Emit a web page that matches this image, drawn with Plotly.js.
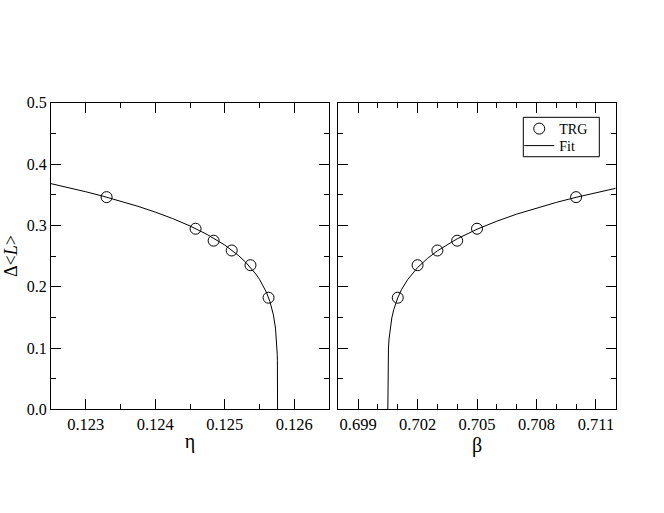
<!DOCTYPE html>
<html>
<head>
<meta charset="utf-8">
<script src="https://cdn.plot.ly/plotly-3.0.1.min.js"></script>
<style>body{margin:0;background:#fff}#chart{width:664px;height:513px}</style>
</head>
<body>
<div id="chart"></div>
<script>
// TRG data, left panel (eta)
const etaTRG = [0.1233, 0.12458, 0.12484, 0.12510, 0.12537, 0.12563];
const yTRG_eta = [0.346, 0.2945, 0.275, 0.259, 0.235, 0.182];
// TRG data, right panel (beta)
const betaTRG = [0.701, 0.702, 0.703, 0.704, 0.705, 0.710];
const yTRG_beta = [0.182, 0.235, 0.259, 0.275, 0.2945, 0.346];

// Fit curve, left panel
const etaFit = [0.1225, 0.12275, 0.123, 0.12325, 0.1235, 0.12375, 0.124, 0.12425, 0.1245, 0.12475,
  0.125, 0.1251, 0.1252, 0.1253, 0.1254, 0.12545, 0.1255, 0.12555, 0.1256, 0.12565, 0.12568,
  0.1257, 0.12573, 0.125745, 0.12575, 0.125755, 0.125757, 0.125759, 0.12576];
const yFit_eta = [0.368, 0.3616, 0.3548, 0.3475, 0.3397, 0.3311, 0.3216, 0.3111, 0.2990, 0.2849,
  0.2679, 0.2597, 0.2506, 0.2400, 0.2275, 0.2202, 0.2119, 0.2024, 0.1907, 0.1757, 0.1640,
  0.1540, 0.1324, 0.1138, 0.1042, 0.0896, 0.0801, 0.0631, 0.0];

// Fit curve, right panel
const betaFit = [0.7005, 0.700501, 0.700505, 0.70051, 0.70053, 0.70056, 0.7006, 0.70065, 0.7007,
  0.7008, 0.7009, 0.7010, 0.7012, 0.7015, 0.7020, 0.7025, 0.7030, 0.7040, 0.7050, 0.7060,
  0.7070, 0.7080, 0.7090, 0.7100, 0.7110, 0.7120];
const yFit_beta = [0.0, 0.0469, 0.0667, 0.0776, 0.0985, 0.1147, 0.1281, 0.1400, 0.1490,
  0.1627, 0.1733, 0.1819, 0.1958, 0.2116, 0.2312, 0.2461, 0.2584, 0.2781, 0.2937, 0.3068,
  0.3183, 0.3283, 0.3374, 0.3457, 0.3533, 0.3604];

const yTickVals = [0.0, 0.1, 0.2, 0.3, 0.4, 0.5];
const etaTickVals = [0.123, 0.124, 0.125, 0.126];
const betaTickVals = [0.699, 0.702, 0.705, 0.708, 0.711];

const FAM = 'Liberation Serif';
const markerStyle = {symbol: 'circle-open', size: 11, color: '#000', line: {width: 1, color: '#000'}};

const traces = [
  {x: etaFit, y: yFit_eta, mode: 'lines', line: {color: '#000', width: 1}, xaxis: 'x', yaxis: 'y', showlegend: false, name: 'Fit'},
  {x: etaTRG, y: yTRG_eta, mode: 'markers', marker: markerStyle, xaxis: 'x', yaxis: 'y', showlegend: false, name: 'TRG'},
  {x: betaTRG, y: yTRG_beta, mode: 'markers', marker: markerStyle, xaxis: 'x2', yaxis: 'y2', name: 'TRG', legend: 'legend'},
  {x: betaFit, y: yFit_beta, mode: 'lines', line: {color: '#000', width: 1}, xaxis: 'x2', yaxis: 'y2', name: 'Fit', legend: 'legend2'}
];

function ax(extra) {
  return Object.assign({
    showline: true, linecolor: '#000', linewidth: 1, mirror: 'allticks',
    ticks: 'inside', ticklen: 10, tickwidth: 1, tickcolor: '#000',
    showgrid: false, zeroline: false, automargin: false,
    tickfont: {family: FAM, size: 16, color: '#000'}
  }, extra);
}

const legendCommon = {
  xanchor: 'left', yanchor: 'middle',
  borderwidth: 0, bgcolor: 'rgba(0,0,0,0)',
  font: {family: FAM, size: 14, color: '#000'},
  itemwidth: 30
};

const layout = {
  width: 664, height: 513,
  margin: {l: 0, r: 0, t: 0, b: 0},
  paper_bgcolor: '#fff', plot_bgcolor: '#fff',
  font: {family: FAM, size: 16, color: '#000'},
  showlegend: true,
  legend: Object.assign({x: 0.782, y: 0.7485}, legendCommon),
  legend2: Object.assign({x: 0.782, y: 0.7154}, legendCommon),
  shapes: [{type: 'rect', xref: 'paper', yref: 'paper', x0: 0.7881, x1: 0.9026, y0: 0.6945, y1: 0.7713,
    line: {color: '#000', width: 1}, fillcolor: 'rgba(0,0,0,0)', layer: 'above'}],
  xaxis: ax({
    domain: [0.0768, 0.4955], range: [0.1225, 0.1265],
    tickmode: 'array', tickvals: etaTickVals, ticktext: etaTickVals.map(v => v.toFixed(3)),
    tickfont: {family: FAM, size: 16.5, color: '#000'},
    minor: {ticks: 'inside', ticklen: 5, tickwidth: 1, tickcolor: '#000', dtick: 0.0005, tick0: 0.1225, showgrid: false},
    title: {text: 'η', font: {family: FAM, size: 20, color: '#000'}, standoff: 0},
    anchor: 'y'
  }),
  yaxis: ax({
    domain: [0.2021, 0.7998], range: [0, 0.5],
    tickmode: 'array', tickvals: yTickVals, ticktext: yTickVals.map(v => v.toFixed(1)),
    minor: {ticks: 'inside', ticklen: 5, tickwidth: 1, tickcolor: '#000', dtick: 0.05, tick0: 0, showgrid: false},
    title: {text: 'Δ&lt;<i>L</i>&gt;', font: {family: FAM, size: 18, color: '#000'}, standoff: 4},
    anchor: 'x'
  }),
  xaxis2: ax({
    domain: [0.5095, 0.9273], range: [0.698, 0.712],
    tickmode: 'array', tickvals: betaTickVals, ticktext: betaTickVals.map(v => v.toFixed(3)),
    tickfont: {family: FAM, size: 16.5, color: '#000'},
    minor: {ticks: 'inside', ticklen: 5, tickwidth: 1, tickcolor: '#000', dtick: 0.001, tick0: 0.698, showgrid: false},
    title: {text: 'β', font: {family: FAM, size: 20, color: '#000'}, standoff: 0},
    anchor: 'y2'
  }),
  yaxis2: ax({
    domain: [0.2021, 0.7998], range: [0, 0.5],
    tickmode: 'array', tickvals: yTickVals, showticklabels: false,
    minor: {ticks: 'inside', ticklen: 5, tickwidth: 1, tickcolor: '#000', dtick: 0.05, tick0: 0, showgrid: false},
    anchor: 'x2'
  })
};

Plotly.newPlot('chart', traces, layout, {staticPlot: true, displayModeBar: false});
</script>
</body>
</html>
